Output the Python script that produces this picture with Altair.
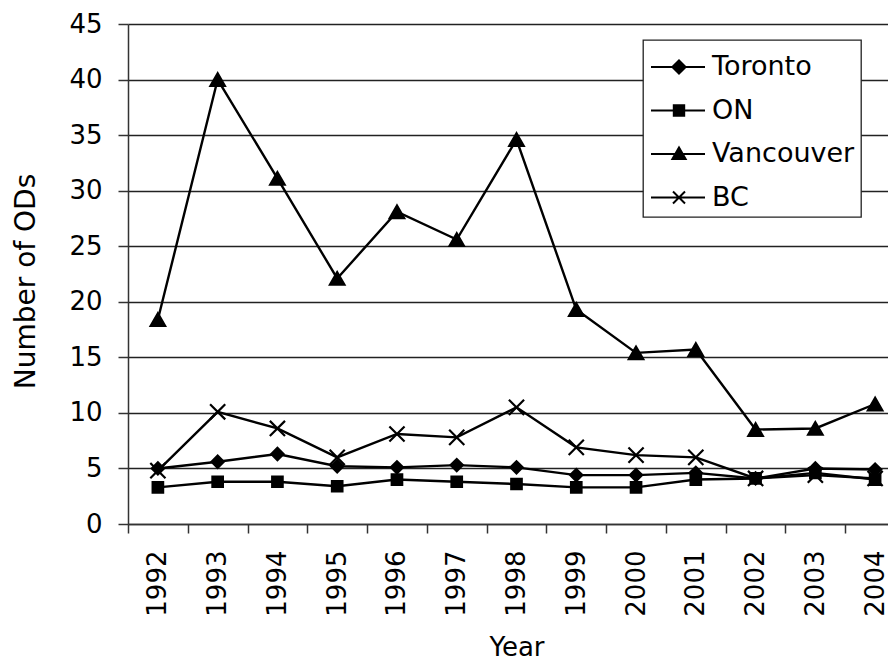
import altair as alt
import pandas as pd

# ---- data ----
years = [1992, 1993, 1994, 1995, 1996, 1997, 1998, 1999, 2000, 2001, 2002, 2003, 2004]
toronto = [5.0, 5.6, 6.3, 5.2, 5.1, 5.3, 5.1, 4.4, 4.4, 4.6, 4.1, 5.0, 4.9]
ontario = [3.3, 3.8, 3.8, 3.4, 4.0, 3.8, 3.6, 3.3, 3.3, 4.0, 4.1, 4.6, 4.0]
vancouver = [18.4, 40.0, 31.1, 22.1, 28.1, 25.6, 34.6, 19.3, 15.4, 15.7, 8.5, 8.6, 10.8]
bc = [4.8, 10.1, 8.6, 6.0, 8.1, 7.8, 10.5, 6.9, 6.2, 6.0, 4.1, 4.4, 4.1]
series_names = ["Toronto", "ON", "Vancouver", "BC"]
y_ticks = [0, 5, 10, 15, 20, 25, 30, 35, 40, 45]

# ---- styling ----
marker_shapes = ["diamond", "square", "triangle-up", "M-1,-1L1,1M-1,1L1,-1"]
marker_sizes = [150, 110, 210, 230]
legend_paths = [
    "M-0.8,0H1.9M0.27,0L0.6,-0.33L0.93,0L0.6,0.33Z",
    "M-0.8,0H1.9M0.34,-0.26H0.86V0.26H0.34Z",
    "M-0.8,0H1.9M0.6,-0.32L0.93,0.25L0.27,0.25Z",
    "M-0.8,0H1.9M0.3,-0.3L0.9,0.3M0.3,0.3L0.9,-0.3",
]

rows = []
for name, vals in zip(series_names, [toronto, ontario, vancouver, bc]):
    for yr, v in zip(years, vals):
        rows.append({"Year": str(yr), "Value": v, "Series": name})
df = pd.DataFrame(rows)

FONT = "DejaVu Sans"

x_enc = alt.X(
    "Year:O",
    scale=alt.Scale(type="band", paddingInner=0, paddingOuter=0),
    axis=alt.Axis(
        title="Year",
        labelAngle=270,
        tickBand="extent",
        tickSize=9,
        labelPadding=17,
        titleY=131,
        titleBaseline="alphabetic",
        grid=False,
    ),
)
y_enc = alt.Y(
    "Value:Q",
    scale=alt.Scale(domain=[0, 45], nice=False),
    axis=alt.Axis(
        title="Number of ODs",
        values=y_ticks,
        tickSize=10,
        labelPadding=16,
        titleAngle=270,
        titleX=-102,
        titleY=257,
        titleAlign="center",
        titleBaseline="middle",
        titleFontSize=28,
        grid=True,
    ),
)

base = alt.Chart(df)

lines = base.mark_line(color="black", strokeWidth=2.4).encode(
    x=x_enc, y=y_enc, detail="Series:N"
)

point_layers = []
for name, shp, sz in zip(series_names, marker_shapes, marker_sizes):
    point_layers.append(
        base.transform_filter(alt.datum.Series == name)
        .mark_point(
            filled=True, fill="black", stroke="black", strokeWidth=2.2,
            opacity=1, shape=shp, size=sz,
        )
        .encode(x=x_enc, y=y_enc)
    )

legend_layer = base.mark_point(
    filled=False, fill="black", stroke="black", strokeWidth=2, size=1600, opacity=0
).encode(
    x=x_enc,
    y=y_enc,
    shape=alt.Shape(
        "Series:N",
        scale=alt.Scale(domain=series_names, range=legend_paths),
        legend=alt.Legend(
            title=None,
            orient="none",
            legendX=515,
            legendY=16,
            padding=6,
            rowPadding=9.5,
            symbolOffset=-3,
            labelOffset=24,
            symbolSize=1600,
            symbolOpacity=1,
            symbolStrokeWidth=2,
            labelFont=FONT,
            labelFontSize=27,
            labelColor="black",
            labelLimit=400,
            strokeColor="#222",
            fillColor="white",
            cornerRadius=0,
        ),
    ),
)

chart = (
    alt.layer(lines, *point_layers, legend_layer)
    .properties(
        width=777,
        height=500,
        padding={"left": 120, "top": 16, "right": -17, "bottom": 140},
        autosize=alt.AutoSizeParams(type="none"),
        background="white",
    )
    .configure_view(stroke=None)
    .configure_axis(
        labelFont=FONT,
        labelFontSize=26,
        labelColor="black",
        titleFont=FONT,
        titleFontSize=26,
        titleFontWeight="normal",
        titleColor="black",
        domainColor="#333",
        domainWidth=1.5,
        tickColor="#333",
        tickWidth=1.5,
        gridColor="#222",
        gridWidth=1.4,
        gridOpacity=1,
    )
    .configure_legend(strokeWidth=1.3)
)

chart.save("out.html", embed_options={"renderer": "svg", "actions": False})
